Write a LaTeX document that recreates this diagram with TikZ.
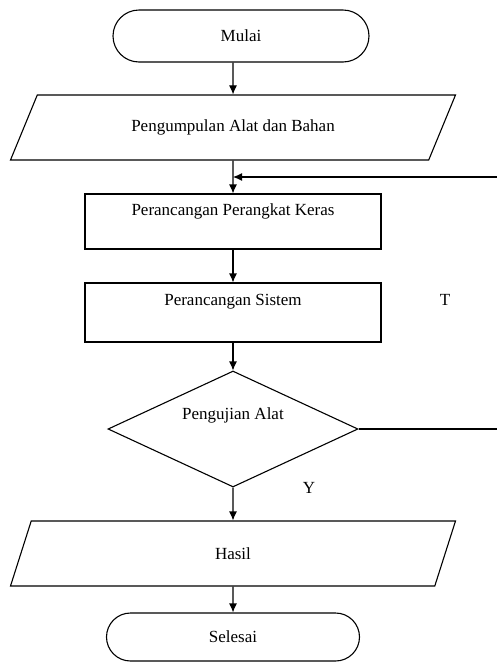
\documentclass[tikz,border=0pt]{standalone}
\usepackage{fontspec}
\newfontfamily\flowfont{Liberation Serif}
\usetikzlibrary{positioning,shapes.geometric,shapes.misc,arrows.meta}

\begin{document}
\begin{tikzpicture}[>={Latex[length=9pt,width=8pt]}, x=1pt, y=-1pt]

    %
    % Styles for flowchart blocks, and flow edges
    %
    \tikzstyle{stepName} = [align=center, font={\flowfont\fontsize{17}{20}\selectfont}, text=black]
    \tikzstyle{block} = [draw, line width=1.1pt, stepName, inner sep=0pt]
    \tikzstyle{terminal} = [block, rounded rectangle, minimum width=256pt, minimum height=52pt]
    \tikzstyle{inout} = [block, trapezium, trapezium left angle=30, trapezium right angle=150,
                         trapezium stretches body, minimum width=445pt, minimum height=65pt]
    \tikzstyle{process} = [block, rectangle, minimum width=296pt, inner ysep=8pt,
                           text height=13.5pt, text depth=25.5pt]
    \tikzstyle{decision} = [block, diamond, aspect=2.16, minimum width=250pt, minimum height=116pt,
                            text height=11pt, text depth=31pt]
    \tikzstyle{flow} = [->, line width=1.1pt]
    \tikzstyle{flowLabel} = [stepName]

    \useasboundingbox (0,0) rectangle (497,662);

    %
    % Position blocks
    %
    \node[terminal, name=mulai] at (241,36) {Mulai};
    \node[inout, name=kumpul] at (233,127.5) {Pengumpulan Alat dan Bahan};
    \node[process, name=rancangHW] at (233,221.5) {Perancangan Perangkat Keras};
    \node[process, name=rancangSis, text height=14pt, text depth=29pt] at (233,312.5) {Perancangan Sistem};
    \node[decision, name=uji] at (233,429) {Pengujian Alat};
    \node[inout, name=hasil] at (233,553.5) {Hasil};
    \node[terminal, name=selesai, minimum width=253pt, minimum height=48pt] at (233,637) {Selesai};
    \node[flowLabel, name=tidak] at (445,300) {T};

    \coordinate (ujiEnd) at (497,429);
    \coordinate (backStart) at (497,177);

    %
    % Connect blocks via edges
    %
    \draw[flow] (kumpul.north |- mulai.south) -- (kumpul);
    \draw[flow] (kumpul) -- (rancangHW);
    \draw[flow] (rancangHW) -- (rancangSis);
    \draw[flow] (rancangSis) -- (uji);
    \draw[flow] (uji) -- node[flowLabel, at start, right=66pt]{Y} (hasil);
    \draw[flow] (hasil) -- (selesai);
    \draw[line width=1.1pt] (uji.east) -- (ujiEnd);
    \draw[flow] (backStart) -- (rancangHW.north |- backStart);
\end{tikzpicture}
\end{document}
